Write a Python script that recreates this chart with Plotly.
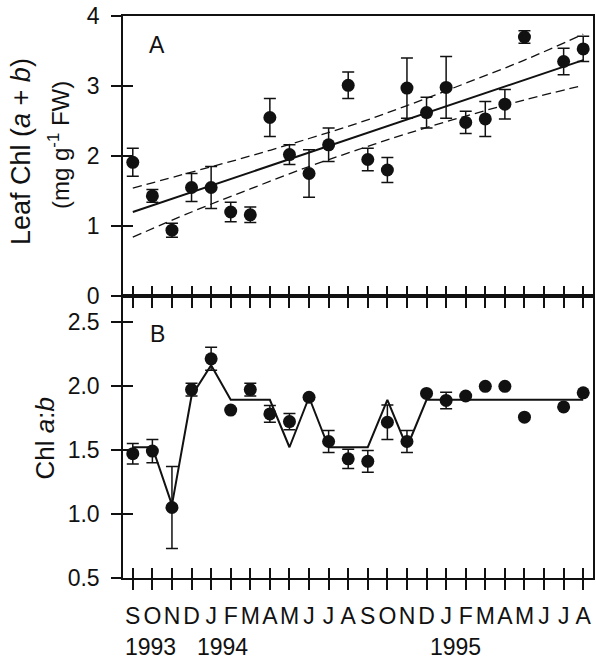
import plotly.graph_objects as go

# ---------------- data ----------------
months = ["S", "O", "N", "D", "J", "F", "M", "A", "M", "J", "J", "A",
          "S", "O", "N", "D", "J", "F", "M", "A", "M", "J", "J", "A"]
month_idx = list(range(24))
years = ["1993", "1994", "1995"]
year_pos = [0.9, 4.6, 16.5]

# Panel A: leaf chlorophyll (a+b), mg g-1 FW
a_x = [0, 1, 2, 3, 4, 5, 6, 7, 8, 9, 10, 11, 12, 13, 14, 15, 16, 17, 18, 19, 20, 22, 23]
a_chl = [1.91, 1.43, 0.94, 1.55, 1.55, 1.20, 1.16, 2.55, 2.02, 1.75, 2.16, 3.01,
         1.95, 1.80, 2.97, 2.62, 2.98, 2.48, 2.53, 2.74, 3.70, 3.35, 3.53]
a_err = [0.20, 0.09, 0.10, 0.20, 0.30, 0.14, 0.11, 0.27, 0.14, 0.34, 0.24, 0.19,
         0.16, 0.18, 0.43, 0.22, 0.44, 0.16, 0.25, 0.21, 0.09, 0.19, 0.18]

# regression line and confidence band
fit_x = [0, 23]
fit_y = [1.20, 3.37]
band_x = [0, 3, 6, 9, 11.5, 14, 17, 20, 23]
band_upper = [1.54, 1.77, 2.00, 2.25, 2.47, 2.72, 3.04, 3.37, 3.74]
band_lower = [0.84, 1.20, 1.53, 1.85, 2.09, 2.32, 2.57, 2.80, 3.01]

# Panel B: Chl a:b
b_x = [0, 1, 2, 3, 4, 5, 6, 7, 8, 9, 10, 11, 12, 13, 14, 15, 16, 17, 18, 19, 20, 22, 23]
b_ratio = [1.47, 1.49, 1.05, 1.97, 2.21, 1.81, 1.97, 1.78, 1.72, 1.91, 1.565, 1.43,
           1.41, 1.715, 1.565, 1.94, 1.885, 1.92, 1.995, 1.995, 1.755, 1.835, 1.945]
b_err = [0.08, 0.09, 0.32, 0.05, 0.09, 0, 0.05, 0.065, 0.063, 0, 0.085, 0.075,
         0.085, 0.135, 0.085, 0, 0.065, 0, 0, 0, 0, 0, 0]
model_x = [0, 1, 2, 3, 4, 5, 7, 8, 9, 10, 12, 13, 14, 15, 23]
model_y = [1.52, 1.52, 1.07, 1.92, 2.16, 1.89, 1.89, 1.52, 1.91, 1.52, 1.52, 1.89, 1.52, 1.89, 1.89]

a_ticks = [0, 1, 2, 3, 4]
b_ticks = [0.5, 1.0, 1.5, 2.0, 2.5]
b_ticktext = ["0.5", "1.0", "1.5", "2.0", "2.5"]

# ---------------- figure ----------------
FONT = "Liberation Sans, Arial, Helvetica, sans-serif"
BLACK = "#111111"
TICKFONT = 23

fig = go.Figure()

# Panel A
fig.add_trace(go.Scatter(x=band_x, y=band_upper, mode="lines", line_shape="spline",
                         line=dict(color=BLACK, width=1.3, dash="9px,5px"),
                         xaxis="x", yaxis="y", showlegend=False))
fig.add_trace(go.Scatter(x=band_x, y=band_lower, mode="lines", line_shape="spline",
                         line=dict(color=BLACK, width=1.3, dash="9px,5px"),
                         xaxis="x", yaxis="y", showlegend=False))
fig.add_trace(go.Scatter(x=fit_x, y=fit_y, mode="lines",
                         line=dict(color=BLACK, width=2),
                         xaxis="x", yaxis="y", showlegend=False))
fig.add_trace(go.Scatter(x=a_x, y=a_chl, mode="markers",
                         marker=dict(color=BLACK, size=13),
                         error_y=dict(type="data", array=a_err, color=BLACK, thickness=1.5, width=6),
                         xaxis="x", yaxis="y", showlegend=False))

# Panel B
fig.add_trace(go.Scatter(x=model_x, y=model_y, mode="lines",
                         line=dict(color=BLACK, width=2),
                         xaxis="x2", yaxis="y2", showlegend=False))
fig.add_trace(go.Scatter(x=b_x, y=b_ratio, mode="markers",
                         marker=dict(color=BLACK, size=13),
                         error_y=dict(type="data", array=b_err, color=BLACK, thickness=1.5, width=6),
                         xaxis="x2", yaxis="y2", showlegend=False))

# empty traces so the overlay axes (inner half of the crossing ticks) get drawn
for xa, ya in [("x3", "y"), ("x", "y3"), ("x4", "y2"), ("x2", "y4")]:
    fig.add_trace(go.Scatter(x=[], y=[], mode="markers", xaxis=xa, yaxis=ya,
                             showlegend=False, hoverinfo="skip"))

split = (578 - 296) / 562.0
xr = [-0.5, 23.5]

common = dict(showgrid=False, zeroline=False, tickcolor=BLACK, tickwidth=1.5, ticklen=10)

fig.update_layout(
    width=596, height=660,
    margin=dict(l=123, r=1, t=16, b=82),
    paper_bgcolor="white", plot_bgcolor="white",
    font=dict(family=FONT, size=22, color=BLACK),
    showlegend=False,
    # panel A axes
    xaxis=dict(domain=[0, 1], anchor="y", range=xr, tickmode="array", tickvals=month_idx,
               ticks="outside", showticklabels=False, showline=True, linecolor=BLACK,
               linewidth=1.5, mirror=True, **common),
    xaxis3=dict(overlaying="x", anchor="y", range=xr, tickmode="array", tickvals=month_idx,
                ticks="inside", showticklabels=False, showline=False, side="bottom", **common),
    yaxis=dict(domain=[split, 1], anchor="x", range=[0, 4], tickmode="array", tickvals=a_ticks,
               ticks="outside", showline=True, linecolor=BLACK, linewidth=1.5, mirror=True,
               tickfont=dict(size=TICKFONT), ticklabelstandoff=7, **common),
    yaxis3=dict(overlaying="y", anchor="x", range=[0, 4], tickmode="array", tickvals=a_ticks,
                ticks="inside", showticklabels=False, showline=False, side="left", **common),
    # panel B axes
    xaxis2=dict(domain=[0, 1], anchor="y2", range=xr, tickmode="array", tickvals=month_idx,
                ticktext=months, ticks="outside", showline=True, linecolor=BLACK,
                linewidth=1.5, mirror=True, tickfont=dict(size=TICKFONT), tickangle=0,
                ticklabelstandoff=7, **common),
    xaxis4=dict(overlaying="x2", anchor="y2", range=xr, tickmode="array", tickvals=month_idx,
                ticks="inside", showticklabels=False, showline=False, side="bottom", **common),
    yaxis2=dict(domain=[0, split], anchor="x2", range=[0.5, 2.7], tickmode="array",
                tickvals=b_ticks, ticktext=b_ticktext, ticks="outside", showline=True,
                linecolor=BLACK, linewidth=1.5, mirror=True, tickfont=dict(size=TICKFONT),
                ticklabelstandoff=7, **common),
    yaxis4=dict(overlaying="y2", anchor="x2", range=[0.5, 2.7], tickmode="array",
                tickvals=b_ticks, ticks="inside", showticklabels=False, showline=False,
                side="left", **common),
)

annotations = [
    dict(text="A", xref="paper", yref="paper", x=(157 - 123) / 472, y=(578 - 45) / 562,
         showarrow=False, font=dict(size=23), xanchor="center", yanchor="middle"),
    dict(text="B", xref="paper", yref="paper", x=(158 - 123) / 472, y=(578 - 334) / 562,
         showarrow=False, font=dict(size=23), xanchor="center", yanchor="middle"),
    dict(text="Leaf Chl (<i>a</i> + <i>b</i>)", xref="paper", yref="paper", x=0, xshift=-102,
         y=(578 - 152) / 562, textangle=-90, showarrow=False, font=dict(size=27),
         xanchor="center", yanchor="middle"),
    dict(text="(mg g<sup>-1</sup> FW)", xref="paper", yref="paper", x=0, xshift=-64,
         y=(578 - 145) / 562, textangle=-90, showarrow=False, font=dict(size=24),
         xanchor="center", yanchor="middle"),
    dict(text="Chl <i>a</i>:<i>b</i>", xref="paper", yref="paper", x=0, xshift=-79,
         y=(578 - 438.5) / 562, textangle=-90, showarrow=False, font=dict(size=26),
         xanchor="center", yanchor="middle"),
]
for yr, pos in zip(years, year_pos):
    annotations.append(dict(text=yr, xref="x2", yref="paper", x=pos, y=0, yshift=-69,
                            showarrow=False, font=dict(size=TICKFONT), xanchor="center",
                            yanchor="middle"))
fig.update_layout(annotations=annotations)

fig.write_html("out.html")
